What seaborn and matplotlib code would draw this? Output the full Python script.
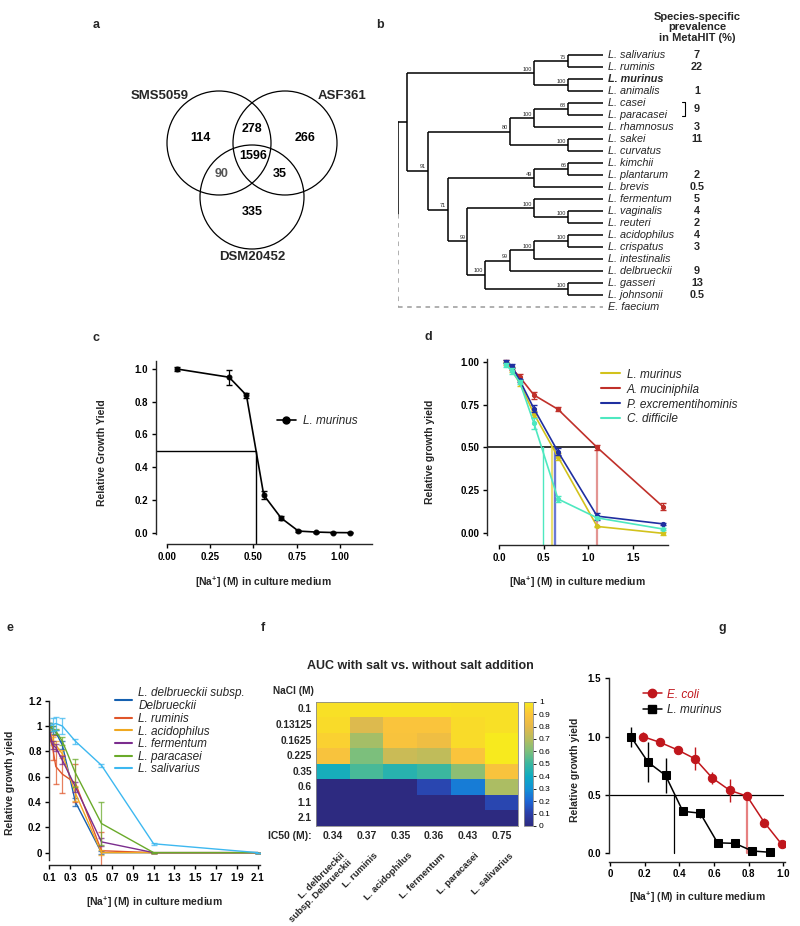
import numpy as np
import pandas as pd
import matplotlib
matplotlib.use("Agg")
import matplotlib.pyplot as plt
import seaborn as sns
from matplotlib.patches import Circle
from matplotlib.lines import Line2D
from matplotlib.colors import LinearSegmentedColormap
from matplotlib.transforms import ScaledTranslation

# -------------------------
# DATA
# -------------------------

# a - Venn diagram (shared gene families)
venn_names = ["SMS5059", "ASF361", "DSM20452"]
venn_regions = ["100", "010", "001", "110", "101", "011", "111"]
venn_counts = [114, 266, 335, 278, 90, 35, 1596]

# b - phylogenetic tree: (node depth, bootstrap, children), leaves are names
tree = (0.041, "", [
    (0.665, "100", [
        (0.832, "75", ["L. salivarius", "L. ruminis"]),
        (0.832, "100", ["L. murinus", "L. animalis"])]),
    (0.147, "91", [
        (0.546, "80", [
            (0.665, "100", [(0.832, "68", ["L. casei", "L. paracasei"]), "L. rhamnosus"]),
            (0.832, "100", ["L. sakei", "L. curvatus"])]),
        (0.245, "71", [
            (0.665, "49", [(0.832, "66", ["L. kimchii", "L. plantarum"]), "L. brevis"]),
            (0.338, "99", [
                (0.665, "100", ["L. fermentum", (0.832, "100", ["L. vaginalis", "L. reuteri"])]),
                (0.424, "100", [
                    (0.546, "99", [
                        (0.665, "100", [(0.832, "100", ["L. acidophilus", "L. crispatus"]),
                                        "L. intestinalis"]),
                        "L. delbrueckii"]),
                    (0.832, "100", ["L. gasseri", "L. johnsonii"])])])])])])
outgroup = "E. faecium"
prevalence = {"L. salivarius": "7", "L. ruminis": "22", "L. animalis": "1",
              "L. rhamnosus": "3", "L. sakei": "11", "L. plantarum": "2",
              "L. brevis": "0.5", "L. fermentum": "5", "L. vaginalis": "4",
              "L. reuteri": "2", "L. acidophilus": "4", "L. crispatus": "3",
              "L. delbrueckii": "9", "L. gasseri": "13", "L. johnsonii": "0.5"}
casei_group_prev = "9"

# c - L. murinus salt tolerance
c_na = [0.06, 0.36, 0.46, 0.56, 0.66, 0.76, 0.86, 0.96, 1.06]
c_yield = [1.0, 0.95, 0.84, 0.23, 0.09, 0.01, 0.004, 0.001, 0.0]
c_err = [0.012, 0.045, 0.015, 0.025, 0.015, 0.005, 0.003, 0.002, 0.002]
c_ic50 = 0.515

# d - several gut bacteria
d_na = [0.08, 0.14, 0.23, 0.39, 0.66, 1.1, 1.84]
d_species = ["L. murinus", "A. muciniphila", "P. excrementihominis", "C. difficile"]
d_yield = {
    "L. murinus":           [0.99, 0.95, 0.875, 0.695, 0.445, 0.04, 0.0],
    "A. muciniphila":       [1.0, 0.96, 0.91, 0.805, 0.722, 0.50, 0.155],
    "P. excrementihominis": [1.0, 0.975, 0.89, 0.725, 0.475, 0.10, 0.055],
    "C. difficile":         [0.98, 0.945, 0.88, 0.64, 0.20, 0.09, 0.025],
}
d_err = {
    "L. murinus":           [0.01, 0.01, 0.015, 0.02, 0.02, 0.005, 0.01],
    "A. muciniphila":       [0.01, 0.01, 0.015, 0.02, 0.012, 0.015, 0.02],
    "P. excrementihominis": [0.01, 0.01, 0.01, 0.02, 0.02, 0.02, 0.005],
    "C. difficile":         [0.01, 0.015, 0.01, 0.03, 0.015, 0.005, 0.005],
}
d_ic50 = {"C. difficile": 0.487, "L. murinus": 0.595,
          "P. excrementihominis": 0.627, "A. muciniphila": 1.1}
d_colors = ["#d2c21c", "#c0302a", "#1f2fa0", "#4ee8c0"]

# e - Lactobacillus species
e_na = [0.1, 0.13125, 0.1625, 0.225, 0.35, 0.6, 1.1, 2.1]
e_species = ["L. delbrueckii subsp.\nDelbrueckii", "L. ruminis", "L. acidophilus",
             "L. fermentum", "L. paracasei", "L. salivarius"]
e_yield = [
    [1.0, 0.97, 0.95, 0.85, 0.40, 0.0, 0.0, 0.0],
    [0.93, 0.83, 0.68, 0.62, 0.55, 0.015, 0.0, 0.0],
    [1.0, 0.88, 0.85, 0.78, 0.47, 0.0, 0.0, 0.0],
    [0.97, 0.85, 0.83, 0.73, 0.52, 0.085, 0.0, 0.0],
    [1.0, 0.98, 0.96, 0.88, 0.63, 0.23, 0.0, 0.0],
    [1.0, 1.01, 1.02, 1.0, 0.88, 0.69, 0.07, 0.0],
]
e_err = [
    [0.02, 0.03, 0.02, 0.03, 0.03, 0.01, 0.0, 0.0],
    [0.05, 0.10, 0.14, 0.15, 0.15, 0.15, 0.0, 0.0],
    [0.02, 0.03, 0.03, 0.03, 0.06, 0.02, 0.0, 0.0],
    [0.02, 0.03, 0.03, 0.03, 0.04, 0.03, 0.0, 0.0],
    [0.02, 0.02, 0.02, 0.03, 0.11, 0.17, 0.0, 0.0],
    [0.02, 0.05, 0.05, 0.06, 0.02, 0.01, 0.01, 0.0],
]
e_colors = ["#1560b0", "#e0562a", "#f0a820", "#7b2d8e", "#6aaa2a", "#3db8f0"]

# f - AUC heatmap
f_nacl = ["0.1", "0.13125", "0.1625", "0.225", "0.35", "0.6", "1.1", "2.1"]
f_strains = ["L. delbrueckii\nsubsp. Delbrueckii", "L. ruminis", "L. acidophilus",
             "L. fermentum", "L. paracasei", "L. salivarius"]
f_auc = [
    [0.97, 0.98, 0.98, 0.98, 0.97, 0.97],
    [0.96, 0.78, 0.89, 0.89, 0.96, 0.97],
    [0.93, 0.67, 0.88, 0.84, 0.96, 1.0],
    [0.88, 0.60, 0.74, 0.72, 0.89, 1.0],
    [0.42, 0.52, 0.46, 0.50, 0.63, 0.88],
    [0.0, 0.0, 0.0, 0.12, 0.25, 0.68],
    [0.0, 0.0, 0.0, 0.0, 0.0, 0.12],
    [0.0, 0.0, 0.0, 0.0, 0.0, 0.0],
]
f_ic50 = [0.34, 0.37, 0.35, 0.36, 0.43, 0.75]
parula_anchors = ["#2d2a80", "#2b3fa8", "#1d66d6", "#1192d6", "#0eabc2", "#3ab7a0",
                  "#7cbf7c", "#b6bd5e", "#e6b94a", "#fcc53a", "#f7ea1e"]

# g - E. coli vs L. murinus
g_ecoli_na = [0.19, 0.29, 0.39, 0.49, 0.59, 0.69, 0.79, 0.89, 0.99]
g_ecoli = [1.0, 0.95, 0.886, 0.81, 0.645, 0.54, 0.49, 0.264, 0.077]
g_ecoli_err = [0.04, 0.02, 0.02, 0.1, 0.05, 0.1, 0.02, 0.04, 0.02]
g_mur_na = [0.12, 0.22, 0.32, 0.42, 0.52, 0.62, 0.72, 0.82, 0.92]
g_mur = [1.0, 0.78, 0.668, 0.36, 0.344, 0.09, 0.085, 0.02, 0.009]
g_mur_err = [0.085, 0.17, 0.15, 0.01, 0.04, 0.01, 0.03, 0.01, 0.01]
g_ic50 = {"L. murinus": 0.371, "E. coli": 0.79}

# -------------------------
# STYLE
# -------------------------
sns.set_theme(style="ticks")
plt.rcParams["font.family"] = ["Liberation Sans", "DejaVu Sans"]
plt.rcParams["mathtext.fontset"] = "custom"
plt.rcParams["mathtext.rm"] = "Liberation Sans"
plt.rcParams["mathtext.bf"] = "Liberation Sans:bold"
plt.rcParams["axes.linewidth"] = 1.0
plt.rcParams["xtick.major.width"] = 1.0
plt.rcParams["ytick.major.width"] = 1.0
plt.rcParams["xtick.major.size"] = 3
plt.rcParams["ytick.major.size"] = 3

W, H = 800, 926
fig = plt.figure(figsize=(W / 100, H / 100), dpi=100)
NA_LABEL = r"[Na$^{\mathbf{+}}$] (M) in culture medium"


def px_axes(x0, y0, x1, y1):
    return fig.add_axes([x0 / W, 1 - y1 / H, (x1 - x0) / W, (y1 - y0) / H])


def fig_text(x, y, s, **kw):
    fig.text(x / W, 1 - y / H, s, **kw)


def place_labels(ax, xlab_y, ylab_x):
    inv = ax.transAxes.inverted()
    bb = ax.get_position()
    ymid = (1 - bb.y0 - bb.height / 2) * H
    xmid = (bb.x0 + bb.width / 2) * W
    ax.yaxis.set_label_coords(*inv.transform((ylab_x, H - ymid)))
    ax.xaxis.set_label_coords(*inv.transform((xmid, H - xlab_y)))


def style_curve_axes(ax, xticks, xlabels, yticks, ylabels):
    ax.set_xticks(xticks)
    ax.set_xticklabels(xlabels, fontweight="bold", fontsize=7)
    ax.set_yticks(yticks)
    ax.set_yticklabels(ylabels, fontweight="bold", fontsize=7)
    ax.tick_params(colors="black", pad=2.5)
    sns.despine(ax=ax)
    ax.grid(False)


for lbl, (x, y) in zip("abcdefg", [(96, 25), (380, 25), (96, 338), (428, 337),
                                    (10, 628), (263, 628), (722, 628)]):
    fig_text(x, y, lbl, fontsize=9, fontweight="bold", ha="center", va="center")

# -------------------------
# a - VENN
# -------------------------
ax_a = px_axes(120, 70, 380, 280)
ax_a.set_xlim(120, 380)
ax_a.set_ylim(280, 70)
ax_a.axis("off")
centers = [(219, 143), (285, 143), (252, 197)]
for cx, cy in centers:
    ax_a.add_patch(Circle((cx, cy), 52, fill=False, ec="black", lw=0.9))
name_pos = [(160, 96), (342, 96), (252, 257)]
for name, (x, y) in zip(venn_names, name_pos):
    ax_a.text(x, y, name, ha="center", va="center", fontsize=9.5, fontweight="bold")
count_pos = {"100": (200, 138), "010": (305, 138), "001": (252, 212),
             "110": (252, 129), "101": (222, 174), "011": (280, 174), "111": (253, 156)}
for reg, n in zip(venn_regions, venn_counts):
    x, y = count_pos[reg]
    ax_a.text(x, y, str(n), ha="center", va="center", fontsize=9, fontweight="bold",
              color="#555555" if reg == "101" else "black")

# -------------------------
# b - TREE
# -------------------------
ax_b = px_axes(398.3, 49, 602.7, 313)
ax_b.set_xlim(0, 1)
ax_b.set_ylim(21.5, -0.5)
ax_b.axis("off")
leaf_order = []


def draw_node(node, parent_x):
    if isinstance(node, str):
        y = len(leaf_order)
        leaf_order.append(node)
        ax_b.plot([parent_x, 1.0], [y, y], color="black", lw=1.1, solid_capstyle="butt")
        return y
    x, support, kids = node
    ys = [draw_node(k, x) for k in kids]
    y = (ys[0] + ys[-1]) / 2
    ax_b.plot([x, x], [ys[0], ys[-1]], color="black", lw=1.1, solid_capstyle="butt")
    ax_b.plot([parent_x, x], [y, y], color="black", lw=1.1, solid_capstyle="butt")
    if support:
        ax_b.text(x - 0.01, y - 0.12, support, ha="right", va="bottom", fontsize=4)
    return y


lacto_y = draw_node(tree, 0.0)
out_y = len(leaf_order)
leaf_order.append(outgroup)
root_y = (lacto_y + out_y) / 2
ax_b.plot([0, 0], [lacto_y, root_y], color="black", lw=1.1)
ax_b.plot([0, 0], [root_y, out_y], color="#9a9a9a", lw=1.1, dashes=(3, 3))
ax_b.plot([0, 1], [out_y, out_y], color="#9a9a9a", lw=1.1, dashes=(3, 3))

for i, name in enumerate(leaf_order):
    ax_b.text(1.026, i, name, ha="left", va="center", fontsize=7.8, style="italic",
              fontweight="bold" if name == "L. murinus" else "normal", clip_on=False)
    if name in prevalence:
        ax_b.text(1.461, i, prevalence[name], ha="center", va="center",
                  fontsize=7.8, fontweight="bold", clip_on=False)
ci, pi = leaf_order.index("L. casei"), leaf_order.index("L. paracasei")
ax_b.plot([1.39, 1.405, 1.405, 1.39], [ci - 0.1, ci - 0.1, pi + 0.1, pi + 0.1],
          color="black", lw=0.8, clip_on=False)
ax_b.text(1.461, (ci + pi) / 2, casei_group_prev, ha="center", va="center",
          fontsize=7.8, fontweight="bold", clip_on=False)
ax_b.text(1.461, -2.3, "Species-specific\nprevalence\nin MetaHIT (%)", ha="center",
          va="center", fontsize=8, fontweight="bold", linespacing=1.05, clip_on=False)

# -------------------------
# c - L. murinus
# -------------------------
ax_c = px_axes(155.7, 361, 371.7, 544)
sns.lineplot(x=c_na, y=c_yield, ax=ax_c, color="black", lw=1.2, marker="o",
             markersize=3.5, markeredgecolor="black", legend=False, errorbar=None)
ax_c.errorbar(c_na, c_yield, yerr=c_err, fmt="none", ecolor="black", elinewidth=0.9, capsize=2)
ax_c.plot([-0.0635, c_ic50 - 0.005], [0.5, 0.5], color="black", lw=1.0)
ax_c.plot([c_ic50, c_ic50], [0.5, -0.069], color="black", lw=1.0)
ax_c.set_xlim(-0.0635, 1.183)
ax_c.set_ylim(-0.069, 1.049)
style_curve_axes(ax_c, [0, 0.25, 0.5, 0.75, 1.0], ["0.00", "0.25", "0.50", "0.75", "1.00"],
                 np.arange(0, 1.01, 0.2), [f"{v:.1f}" for v in np.arange(0, 1.01, 0.2)])
ax_c.spines["left"].set_bounds(-0.01, 1.049)
ax_c.spines["bottom"].set_bounds(0, 1.183)
ax_c.set_ylabel("Relative Growth Yield", fontsize=7.5, fontweight="bold")
ax_c.set_xlabel(NA_LABEL, fontsize=7.5, fontweight="bold")
place_labels(ax_c, 575, 107)
ax_c.legend(handles=[Line2D([], [], color="black", marker="o", markersize=5, lw=1.2)],
            labels=["L. murinus"], loc="center left", bbox_to_anchor=(266 / W, 1 - 421 / H),
            bbox_transform=fig.transFigure, frameon=False, handlelength=1.6,
            handletextpad=0.6, prop={"style": "italic", "size": 8.5})

# -------------------------
# d - gut bacteria
# -------------------------
ax_d = px_axes(487.3, 359, 668.3, 545)
ax_d.plot([-0.135, d_ic50["A. muciniphila"]], [0.5, 0.5], color="black", lw=1.1, zorder=1)
ic_style = {"C. difficile": ("#4ee8c0", 1.0, 1.0), "L. murinus": ("#e8dc60", 1.5, 0.9),
            "P. excrementihominis": ("#5a6ad0", 1.7, 0.9),
            "A. muciniphila": ("#e08a86", 1.6, 0.9)}
for sp in d_species:
    col, lw, al = ic_style[sp]
    ax_d.plot([d_ic50[sp]] * 2, [0.5, -0.068], color=col, lw=lw, alpha=al, zorder=1)
for sp, col in zip(d_species, d_colors):
    sns.lineplot(x=d_na, y=d_yield[sp], ax=ax_d, color=col, lw=1.2, marker="o",
                 markersize=3, markeredgecolor=col, legend=False, errorbar=None)
    ax_d.errorbar(d_na, d_yield[sp], yerr=d_err[sp], fmt="none", ecolor=col,
                  elinewidth=0.9, capsize=2)
ax_d.set_xlim(-0.135, 1.9)
ax_d.set_ylim(-0.068, 1.015)
style_curve_axes(ax_d, [0, 0.5, 1.0, 1.5], ["0.0", "0.5", "1.0", "1.5"],
                 [0, 0.25, 0.5, 0.75, 1.0], ["0.00", "0.25", "0.50", "0.75", "1.00"])
ax_d.spines["left"].set_bounds(-0.01, 1.015)
ax_d.spines["bottom"].set_bounds(0, 1.9)
ax_d.set_ylabel("Relative growth yield", fontsize=7.5, fontweight="bold")
ax_d.set_xlabel(NA_LABEL, fontsize=7.5, fontweight="bold")
place_labels(ax_d, 575, 435)
ax_d.legend(handles=[Line2D([], [], color=c, lw=1.5) for c in d_colors], labels=d_species,
            loc="upper left", bbox_to_anchor=(590 / W, 1 - 358 / H),
            bbox_transform=fig.transFigure, frameon=False, handlelength=1.6,
            handletextpad=0.6, labelspacing=0.25, prop={"style": "italic", "size": 8.5})

# -------------------------
# e - Lactobacillus species
# -------------------------
ax_e = px_axes(49.3, 700.7, 260, 865.3)
for sp, ys, er, col in zip(e_species, e_yield, e_err, e_colors):
    sns.lineplot(x=e_na, y=ys, ax=ax_e, color=col, lw=1.0, legend=False, errorbar=None)
    ax_e.errorbar(e_na, ys, yerr=er, fmt="none", ecolor=col, elinewidth=0.9,
                  capsize=2, alpha=0.75)
ax_e.set_xlim(0.1, 2.12)
ax_e.set_ylim(-0.1, 1.2)
ex = np.round(np.arange(0.1, 2.11, 0.2), 1)
ey = np.round(np.arange(0, 1.21, 0.2), 1)
style_curve_axes(ax_e, ex, [f"{v:g}" for v in ex], ey, [f"{v:g}" for v in ey])
ax_e.spines["left"].set_bounds(-0.06, 1.2)
ax_e.set_ylabel("Relative growth yield", fontsize=7.5, fontweight="bold")
ax_e.set_xlabel(NA_LABEL, fontsize=7.5, fontweight="bold")
place_labels(ax_e, 895, 15)
ax_e.legend(handles=[Line2D([], [], color=c, lw=1.5) for c in e_colors], labels=e_species,
            loc="upper left", bbox_to_anchor=(104 / W, 1 - 676 / H),
            bbox_transform=fig.transFigure, frameon=False, handlelength=1.5,
            handletextpad=0.5, labelspacing=0.05, prop={"style": "italic", "size": 8.5})

# -------------------------
# f - AUC heatmap
# -------------------------
parula = LinearSegmentedColormap.from_list("parula_like", parula_anchors)
ax_f = px_axes(316, 701.7, 518.3, 826)
cax = px_axes(524, 701.7, 533.3, 826)
auc_df = pd.DataFrame(f_auc, index=f_nacl, columns=f_strains)
sns.heatmap(auc_df, ax=ax_f, cbar_ax=cax, cmap=parula, vmin=0, vmax=1,
            cbar_kws={"ticks": np.round(np.arange(0, 1.01, 0.1), 1)})
ax_f.set_xlabel("")
ax_f.set_ylabel("")
ax_f.set_yticks(np.arange(len(f_nacl)) + 0.5)
ax_f.set_yticklabels(f_nacl, fontweight="bold", fontsize=7.3, rotation=0)
ax_f.set_xticks(np.arange(len(f_strains)) + 0.5)
ax_f.set_xticklabels(f_strains, rotation=45, ha="right", rotation_mode="anchor",
                     fontsize=6.8, fontweight="bold", multialignment="right")
ax_f.tick_params(axis="both", length=0)
ax_f.tick_params(axis="x", pad=18)
ax_f.tick_params(axis="y", pad=3)
for lbl in ax_f.get_xticklabels():
    lbl.set_transform(lbl.get_transform() + ScaledTranslation(5 / 72, 0, fig.dpi_scale_trans))
for sp in ax_f.spines.values():
    sp.set_visible(True)
    sp.set_color("#8a8a8a")
    sp.set_linewidth(0.6)
for i, v in enumerate(f_ic50):
    ax_f.text(i + 0.5, 8.64, f"{v:.2f}", ha="center", va="center", fontsize=7.5,
              fontweight="bold", clip_on=False)
ax_f.text(-0.12, 8.64, "IC50 (M):", ha="right", va="center", fontsize=7.5,
          fontweight="bold", clip_on=False)
ax_f.text(-0.05, -0.72, "NaCl (M)", ha="right", va="center", fontsize=7.3,
          fontweight="bold", clip_on=False)
fig_text(420, 666, "AUC with salt vs. without salt addition", fontsize=9,
         fontweight="bold", ha="center", va="center")
cbar = ax_f.collections[0].colorbar
cbar.outline.set_edgecolor("#8a8a8a")
cbar.outline.set_linewidth(0.6)
cax.set_yticklabels([f"{t:g}" for t in np.round(np.arange(0, 1.01, 0.1), 1)])
cax.tick_params(labelsize=6, length=2, width=0.6, pad=2, colors="black")

# -------------------------
# g - E. coli vs L. murinus
# -------------------------
ax_g = px_axes(609, 678.3, 785, 861.7)
ax_g.plot([0, 1.0], [0.5, 0.5], color="black", lw=0.9, zorder=1)
ax_g.plot([g_ic50["L. murinus"]] * 2, [0.5, 0.0], color="black", lw=0.9, zorder=1)
ax_g.plot([g_ic50["E. coli"]] * 2, [0.5, 0.0], color="#e06060", lw=1.6, alpha=0.8, zorder=1)
sns.lineplot(x=g_ecoli_na, y=g_ecoli, ax=ax_g, color="#c0161c", lw=1.1, marker="o",
             markersize=6, markeredgecolor="#c0161c", legend=False, errorbar=None)
ax_g.errorbar(g_ecoli_na, g_ecoli, yerr=g_ecoli_err, fmt="none", ecolor="#c0161c",
              elinewidth=1.0, capsize=0)
sns.lineplot(x=g_mur_na, y=g_mur, ax=ax_g, color="black", lw=1.1, marker="s",
             markersize=6, markeredgecolor="black", legend=False, errorbar=None)
ax_g.errorbar(g_mur_na, g_mur, yerr=g_mur_err, fmt="none", ecolor="black",
              elinewidth=1.0, capsize=0)
ax_g.set_xlim(-0.006, 1.009)
ax_g.set_ylim(-0.072, 1.5)
style_curve_axes(ax_g, [0, 0.2, 0.4, 0.6, 0.8, 1.0], ["0", "0.2", "0.4", "0.6", "0.8", "1.0"],
                 [0, 0.5, 1.0, 1.5], ["0.0", "0.5", "1.0", "1.5"])
ax_g.spines["left"].set_bounds(0, 1.5)
ax_g.set_ylabel("Relative growth yield", fontsize=7.5, fontweight="bold")
ax_g.set_xlabel(NA_LABEL, fontsize=7.5, fontweight="bold")
place_labels(ax_g, 890, 580)
leg = ax_g.legend(handles=[Line2D([], [], color="#c0161c", marker="o", markersize=6, lw=1.1),
                           Line2D([], [], color="black", marker="s", markersize=6, lw=1.1)],
                  labels=["E. coli", "L. murinus"], loc="upper left",
                  bbox_to_anchor=(632 / W, 1 - 678 / H), bbox_transform=fig.transFigure,
                  frameon=False, handlelength=1.6, handletextpad=0.5, labelspacing=0.3,
                  prop={"style": "italic", "size": 8.5})
leg.get_texts()[0].set_color("#c0161c")

fig.savefig("out.png", dpi=100, facecolor="white")
